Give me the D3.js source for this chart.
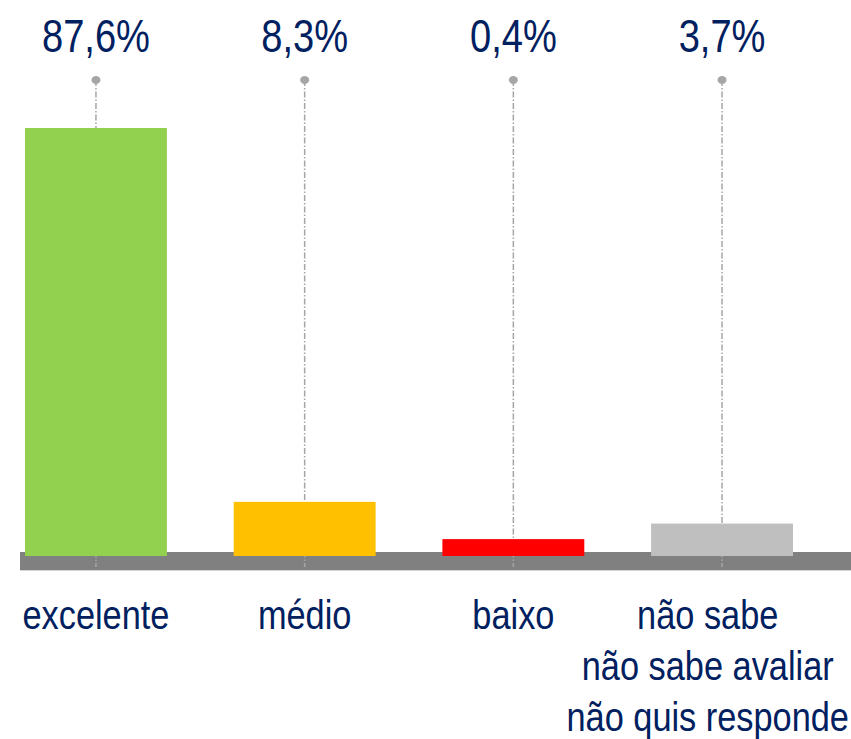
<!DOCTYPE html>
<html>
<head>
<meta charset="utf-8">
<script src="https://cdn.jsdelivr.net/npm/d3@7.9.0/dist/d3.min.js"></script>
<style>
  html, body { margin: 0; padding: 0; background: #fff; overflow: hidden; }
  text { font-family: "Liberation Sans Narrow", "Arial Narrow", "Liberation Sans", Arial, sans-serif; fill: #002060; }
</style>
</head>
<body>
<svg id="chart"></svg>
<script>
const categories = ["excelente", "médio", "baixo", "não sabe"];
const categoryLines = [
    ["excelente"],
    ["médio"],
    ["baixo"],
    ["não sabe", "não sabe avaliar", "não quis responde"]
];
const values = [87.6, 8.3, 0.4, 3.7];
const valueLabels = ["87,6%", "8,3%", "0,4%", "3,7%"];
const barColors = ["#92d050", "#ffc000", "#ff0000", "#bfbfbf"];

const width = 851;
const height = 739;
const baseY = 556;      // bottom of the bars
const minBar = 15;      // smallest visible bar height

const svg = d3.select("#chart")
    .attr("width", width)
    .attr("height", height);

const x = d3.scaleBand()
    .domain(categories)
    .range([25, 793])
    .paddingInner(0.32);

const y = d3.scaleLinear()
    .domain([0, 100])
    .range([baseY - minBar, 69.5]);

// grey floor
svg.append("rect")
    .attr("x", 20)
    .attr("y", 552)
    .attr("width", width - 20)
    .attr("height", 18)
    .attr("fill", "#808080");

svg.append("line")
    .attr("x1", 20)
    .attr("x2", width)
    .attr("y1", 570.5)
    .attr("y2", 570.5)
    .attr("stroke", "#d4d4d4")
    .attr("stroke-width", 1);

const data = categories.map((c, i) => ({
    cat: c,
    value: values[i],
    label: valueLabels[i],
    lines: categoryLines[i],
    color: barColors[i]
}));

const cx = d => x(d.cat) + x.bandwidth() / 2;

// leader lines
svg.selectAll(".leader")
    .data(data)
    .enter()
    .append("line")
    .attr("class", "leader")
    .attr("x1", cx)
    .attr("x2", cx)
    .attr("y1", 80)
    .attr("y2", 567)
    .attr("stroke", "#a6a6a6")
    .attr("stroke-width", 1.5)
    .attr("stroke-dasharray", "6,2,1.5,2");

svg.selectAll(".dot")
    .data(data)
    .enter()
    .append("ellipse")
    .attr("class", "dot")
    .attr("cx", cx)
    .attr("cy", 80)
    .attr("rx", 4.5)
    .attr("ry", 4)
    .attr("fill", "#a6a6a6");

svg.selectAll(".bar")
    .data(data)
    .enter()
    .append("rect")
    .attr("class", "bar")
    .attr("x", d => x(d.cat))
    .attr("y", d => y(d.value))
    .attr("width", x.bandwidth())
    .attr("height", d => baseY - y(d.value))
    .attr("fill", d => d.color);

// value labels
const valueText = svg.selectAll(".value")
    .data(data)
    .enter()
    .append("text")
    .attr("class", "value")
    .attr("text-anchor", "middle")
    .style("font-size", "47px")
    .text(d => d.label);

const refW = valueText.filter((d, i) => i === 0).node().getComputedTextLength();
const sxVal = 108 / refW;
valueText.attr("transform", d => `translate(${cx(d)}, 52) scale(${sxVal}, 1)`);

// category labels
const catText = svg.selectAll(".cat")
    .data(data)
    .enter()
    .append("text")
    .attr("class", "cat")
    .attr("text-anchor", "middle")
    .style("font-size", "41px");

catText.selectAll("tspan")
    .data(d => d.lines)
    .enter()
    .append("tspan")
    .attr("x", 0)
    .attr("y", (d, i) => i * 51)
    .text(d => d);

const refCat = catText.filter((d, i) => i === 3).selectAll("tspan").nodes()[1].getComputedTextLength();
const sxCat = 252 / refCat;

// keep wide labels inside the right edge
catText.attr("transform", function(d) {
    const w = d3.max(d3.select(this).selectAll("tspan").nodes(), n => n.getComputedTextLength()) * sxCat;
    const c = Math.min(cx(d), width - 2 - w / 2);
    return `translate(${c}, 629) scale(${sxCat}, 1)`;
});
</script>
</body>
</html>
